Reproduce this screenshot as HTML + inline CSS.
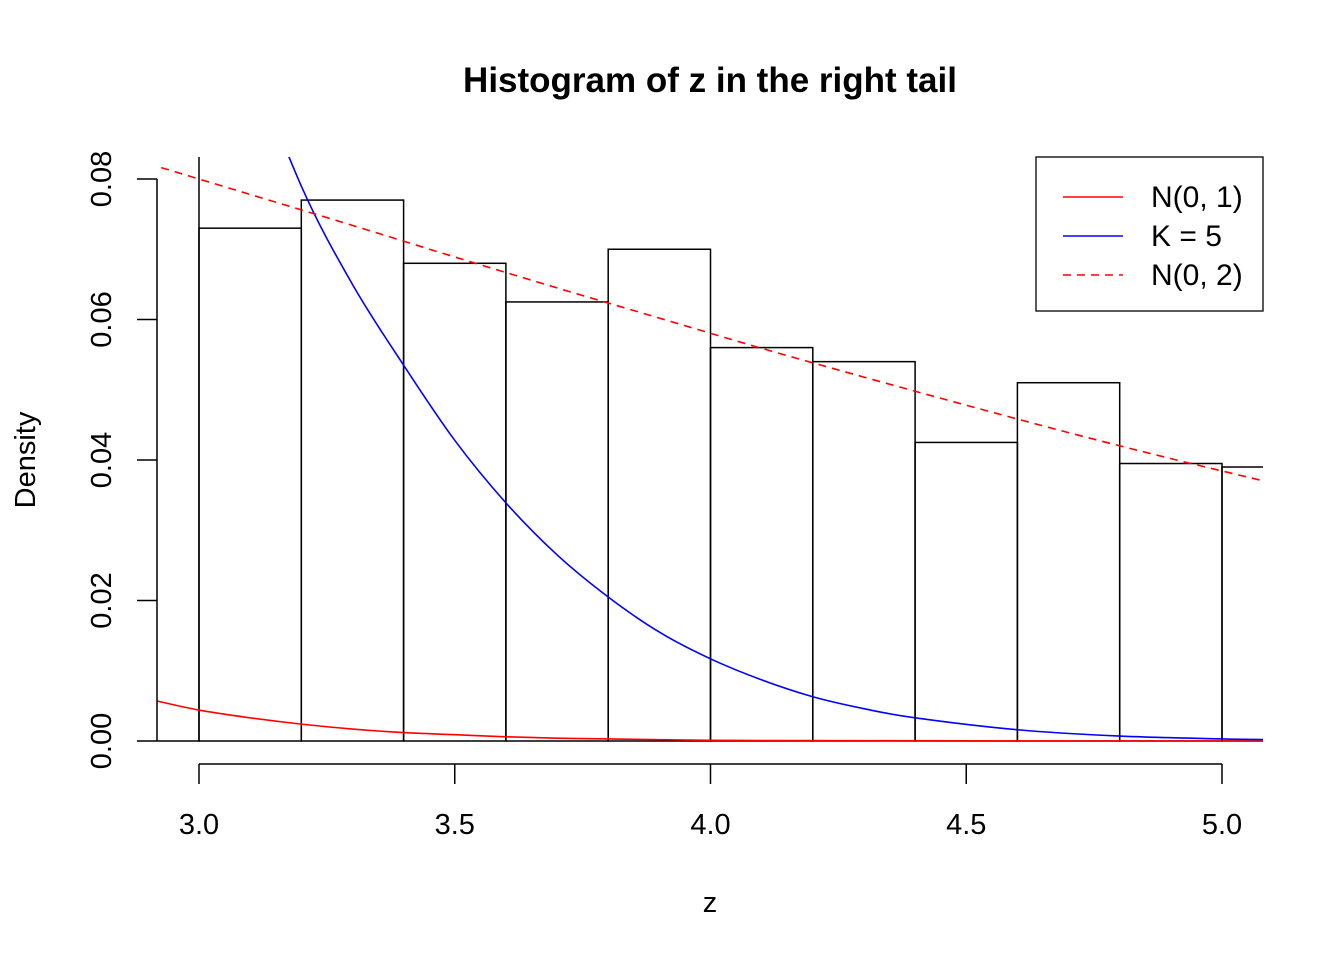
<!DOCTYPE html>
<html><head><meta charset="utf-8"><style>
body{margin:0;background:#fff}
svg text{font-family:"Liberation Sans",Arial,sans-serif;fill:#000}
</style></head><body>
<svg id="chart" width="1344" height="960" xmlns="http://www.w3.org/2000/svg">
<defs><clipPath id="plotclip"><rect x="157" y="157" width="1106" height="606"/></clipPath></defs>
<text x="710" y="92" text-anchor="middle" font-size="35" font-weight="bold">Histogram of z in the right tail</text>
<text x="710" y="912" text-anchor="middle" font-size="29">z</text>
<text transform="translate(35,460) rotate(-90)" text-anchor="middle" font-size="29">Density</text>
<g id="bars" clip-path="url(#plotclip)"></g>
<g id="curves" clip-path="url(#plotclip)"></g>
<g id="axes"></g>
<g>
<rect x="1036" y="157" width="227" height="154" fill="#fff" stroke="#000" stroke-width="1.3"/>
<line x1="1063" y1="197" x2="1123" y2="197" stroke="red" stroke-width="1.5"/>
<text x="1151" y="207" font-size="30">N(0, 1)</text>
<line x1="1063" y1="236" x2="1123" y2="236" stroke="blue" stroke-width="1.5"/>
<text x="1151" y="246" font-size="30">K = 5</text>
<line x1="1063" y1="275" x2="1123" y2="275" stroke="red" stroke-width="1.5" stroke-dasharray="8,6"/>
<text x="1151" y="285" font-size="30">N(0, 2)</text>
</g>
</svg>
<script>
const breaks=[2.8,3.0,3.2,3.4,3.6,3.8,4.0,4.2,4.4,4.6,4.8,5.0,5.2];
const densities=[0.1,0.073,0.077,0.068,0.0625,0.070,0.056,0.054,0.0425,0.051,0.0395,0.039];
const n01X=[2.9,3.0,3.1,3.2,3.3,3.4,3.5,3.6,3.7,3.8,4.0,4.2,4.5,5.1];
const n01Y=[0.0060,0.0044,0.0033,0.0024,0.0017,0.0012,0.0009,0.0006,0.0004,0.0003,0.0001,0.00006,0.00002,0];
const k5X=[3.0,3.1,3.2,3.3,3.4,3.5,3.6,3.7,3.8,3.9,4.0,4.1,4.2,4.3,4.4,4.6,4.8,5.0,5.1];
const k5Y=[0.121,0.098,0.079,0.0650,0.0535,0.0428,0.0339,0.0265,0.0205,0.0155,0.0117,0.0087,0.0063,0.0046,0.0033,0.0016,0.0007,0.0003,0.0002];
const n02X=[2.9,3.1,3.3,3.5,3.7,3.9,4.1,4.3,4.5,4.7,4.9,5.1];
const n02Y=[0.0822,0.0778,0.0734,0.0689,0.0645,0.0602,0.0559,0.0518,0.0478,0.0439,0.0402,0.0367];
const xTicks=[3.0,3.5,4.0,4.5,5.0];
const xTickLabels=["3.0","3.5","4.0","4.5","5.0"];
const yTicks=[0,0.02,0.04,0.06,0.08];
const yTickLabels=["0.00","0.02","0.04","0.06","0.08"];
const NS="http://www.w3.org/2000/svg";
const sx=v=>199+(v-3)*511.5;
const sy=v=>741-v*7025;
function mk(t,a,p){const e=document.createElementNS(NS,t);for(const k in a)e.setAttribute(k,a[k]);p.appendChild(e);return e;}
const bars=document.getElementById('bars');
densities.forEach((d,i)=>{
 const r=mk('rect',{x:sx(breaks[i]),y:sy(d),width:sx(breaks[i+1])-sx(breaks[i]),height:sy(0)-sy(d),fill:'none',stroke:'#000','stroke-width':1.5},bars);
 
 
});
const curves=document.getElementById('curves');
function smoothPath(xs,ys){
 const P=xs.map((x,i)=>[sx(x),sy(ys[i])]);
 let d='M'+P[0][0]+','+P[0][1];
 for(let i=0;i<P.length-1;i++){
  const p0=P[Math.max(0,i-1)],p1=P[i],p2=P[i+1],p3=P[Math.min(P.length-1,i+2)];
  const c1=[p1[0]+(p2[0]-p0[0])/6,p1[1]+(p2[1]-p0[1])/6];
  const c2=[p2[0]-(p3[0]-p1[0])/6,p2[1]-(p3[1]-p1[1])/6];
  d+=` C${c1[0]},${c1[1]} ${c2[0]},${c2[1]} ${p2[0]},${p2[1]}`;
 }
 return d;
}
function line(xs,ys,col,dash,name){
 const p=mk('path',{d:smoothPath(xs,ys),fill:'none',stroke:col,'stroke-width':1.6},curves);
 if(dash)p.setAttribute('stroke-dasharray',dash);
 
 
}
line(n01X,n01Y,'red',null,'n01-curve');
line(k5X,k5Y,'blue',null,'k5-curve');
line(n02X,n02Y,'red','8,6','n02-curve');
const ax=document.getElementById('axes');
mk('line',{x1:sx(xTicks[0]),y1:764,x2:sx(xTicks[xTicks.length-1]),y2:764,stroke:'#000','stroke-width':1.5},ax);
xTicks.forEach((t,i)=>{
 mk('line',{x1:sx(t),y1:764,x2:sx(t),y2:784,stroke:'#000','stroke-width':1.5},ax);
 const tx=mk('text',{x:sx(t),y:834,'text-anchor':'middle','font-size':29},ax);
 tx.textContent=xTickLabels[i];
 
 
});
mk('line',{x1:157,y1:sy(yTicks[0]),x2:157,y2:sy(yTicks[yTicks.length-1]),stroke:'#000','stroke-width':1.5},ax);
yTicks.forEach((t,i)=>{
 mk('line',{x1:137,y1:sy(t),x2:157,y2:sy(t),stroke:'#000','stroke-width':1.5},ax);
 const tx=mk('text',{transform:`translate(111,${sy(t)}) rotate(-90)`,'text-anchor':'middle','font-size':29},ax);
 tx.textContent=yTickLabels[i];
 
 
});
</script>
</body></html>
